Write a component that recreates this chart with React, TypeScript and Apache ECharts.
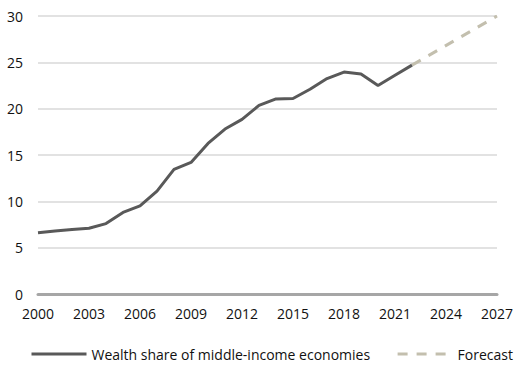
import React, { useEffect, useRef } from "react";
import * as echarts from "echarts";

const years = [2000, 2001, 2002, 2003, 2004, 2005, 2006, 2007, 2008, 2009, 2010, 2011, 2012, 2013, 2014, 2015, 2016, 2017, 2018, 2019, 2020, 2021, 2022];
const wealthShare = [6.6, 6.8, 6.95, 7.1, 7.6, 8.8, 9.5, 11.1, 13.45, 14.2, 16.25, 17.8, 18.85, 20.35, 21.05, 21.1, 22.1, 23.25, 23.95, 23.75, 22.5, 23.6, 24.7];
const forecastYears = [2022, 2027];
const forecastValues = [24.7, 30];
const seriesNames = ["Wealth share of middle-income economies", "Forecast"];

const FONT = "'Open Sans', sans-serif";
const TEXT = "#111";

export default function App() {
  const ref = useRef<HTMLDivElement>(null);
  useEffect(() => {
    document.body.style.margin = "0";
    if (!ref.current) return;
    const chart = echarts.init(ref.current, undefined, { renderer: "svg" });
    chart.setOption({
      animation: false,
      grid: { left: 38, right: 23, top: 16, bottom: 79, containLabel: false },
      legend: {
        left: 25,
        bottom: 7,
        width: 495,
        itemWidth: 55,
        itemHeight: 14,
        itemGap: 26,
        itemStyle: { color: "transparent", borderColor: "transparent", borderWidth: 0, opacity: 0 },
        lineStyle: { width: 3 },
        textStyle: { fontFamily: FONT, fontSize: 14, color: TEXT },
        data: seriesNames,
      },
      xAxis: {
        type: "value",
        min: 2000,
        max: 2027,
        interval: 3,
        axisLine: { show: true, lineStyle: { color: "#a6a6a6", width: 3 } },
        axisTick: { show: false },
        splitLine: { show: false },
        axisLabel: {
          fontFamily: FONT,
          fontSize: 14,
          color: TEXT,
          margin: 12,
          formatter: (v: number) => String(v),
        },
      },
      yAxis: {
        type: "value",
        min: 0,
        max: 30,
        interval: 5,
        axisLine: { show: false },
        axisTick: { show: false },
        splitLine: { lineStyle: { color: "#d9d9d9", width: 1.5 } },
        axisLabel: { fontFamily: FONT, fontSize: 14, color: TEXT, margin: 15 },
      },
      series: [
        {
          name: seriesNames[0],
          type: "line",
          symbol: "none",
          data: years.map((y, i) => [y, wealthShare[i]]),
          lineStyle: { color: "#595959", width: 3 },
          itemStyle: { color: "#595959" },
          z: 3,
        },
        {
          name: seriesNames[1],
          type: "line",
          symbol: "none",
          data: forecastYears.map((y, i) => [y, forecastValues[i]]),
          lineStyle: { color: "#c3bfae", width: 3, type: [10, 9] },
          itemStyle: { color: "#c3bfae" },
          z: 2,
        },
      ],
    });
    return () => chart.dispose();
  }, []);
  return <div ref={ref} style={{ width: 520, height: 373 }} />;
}
